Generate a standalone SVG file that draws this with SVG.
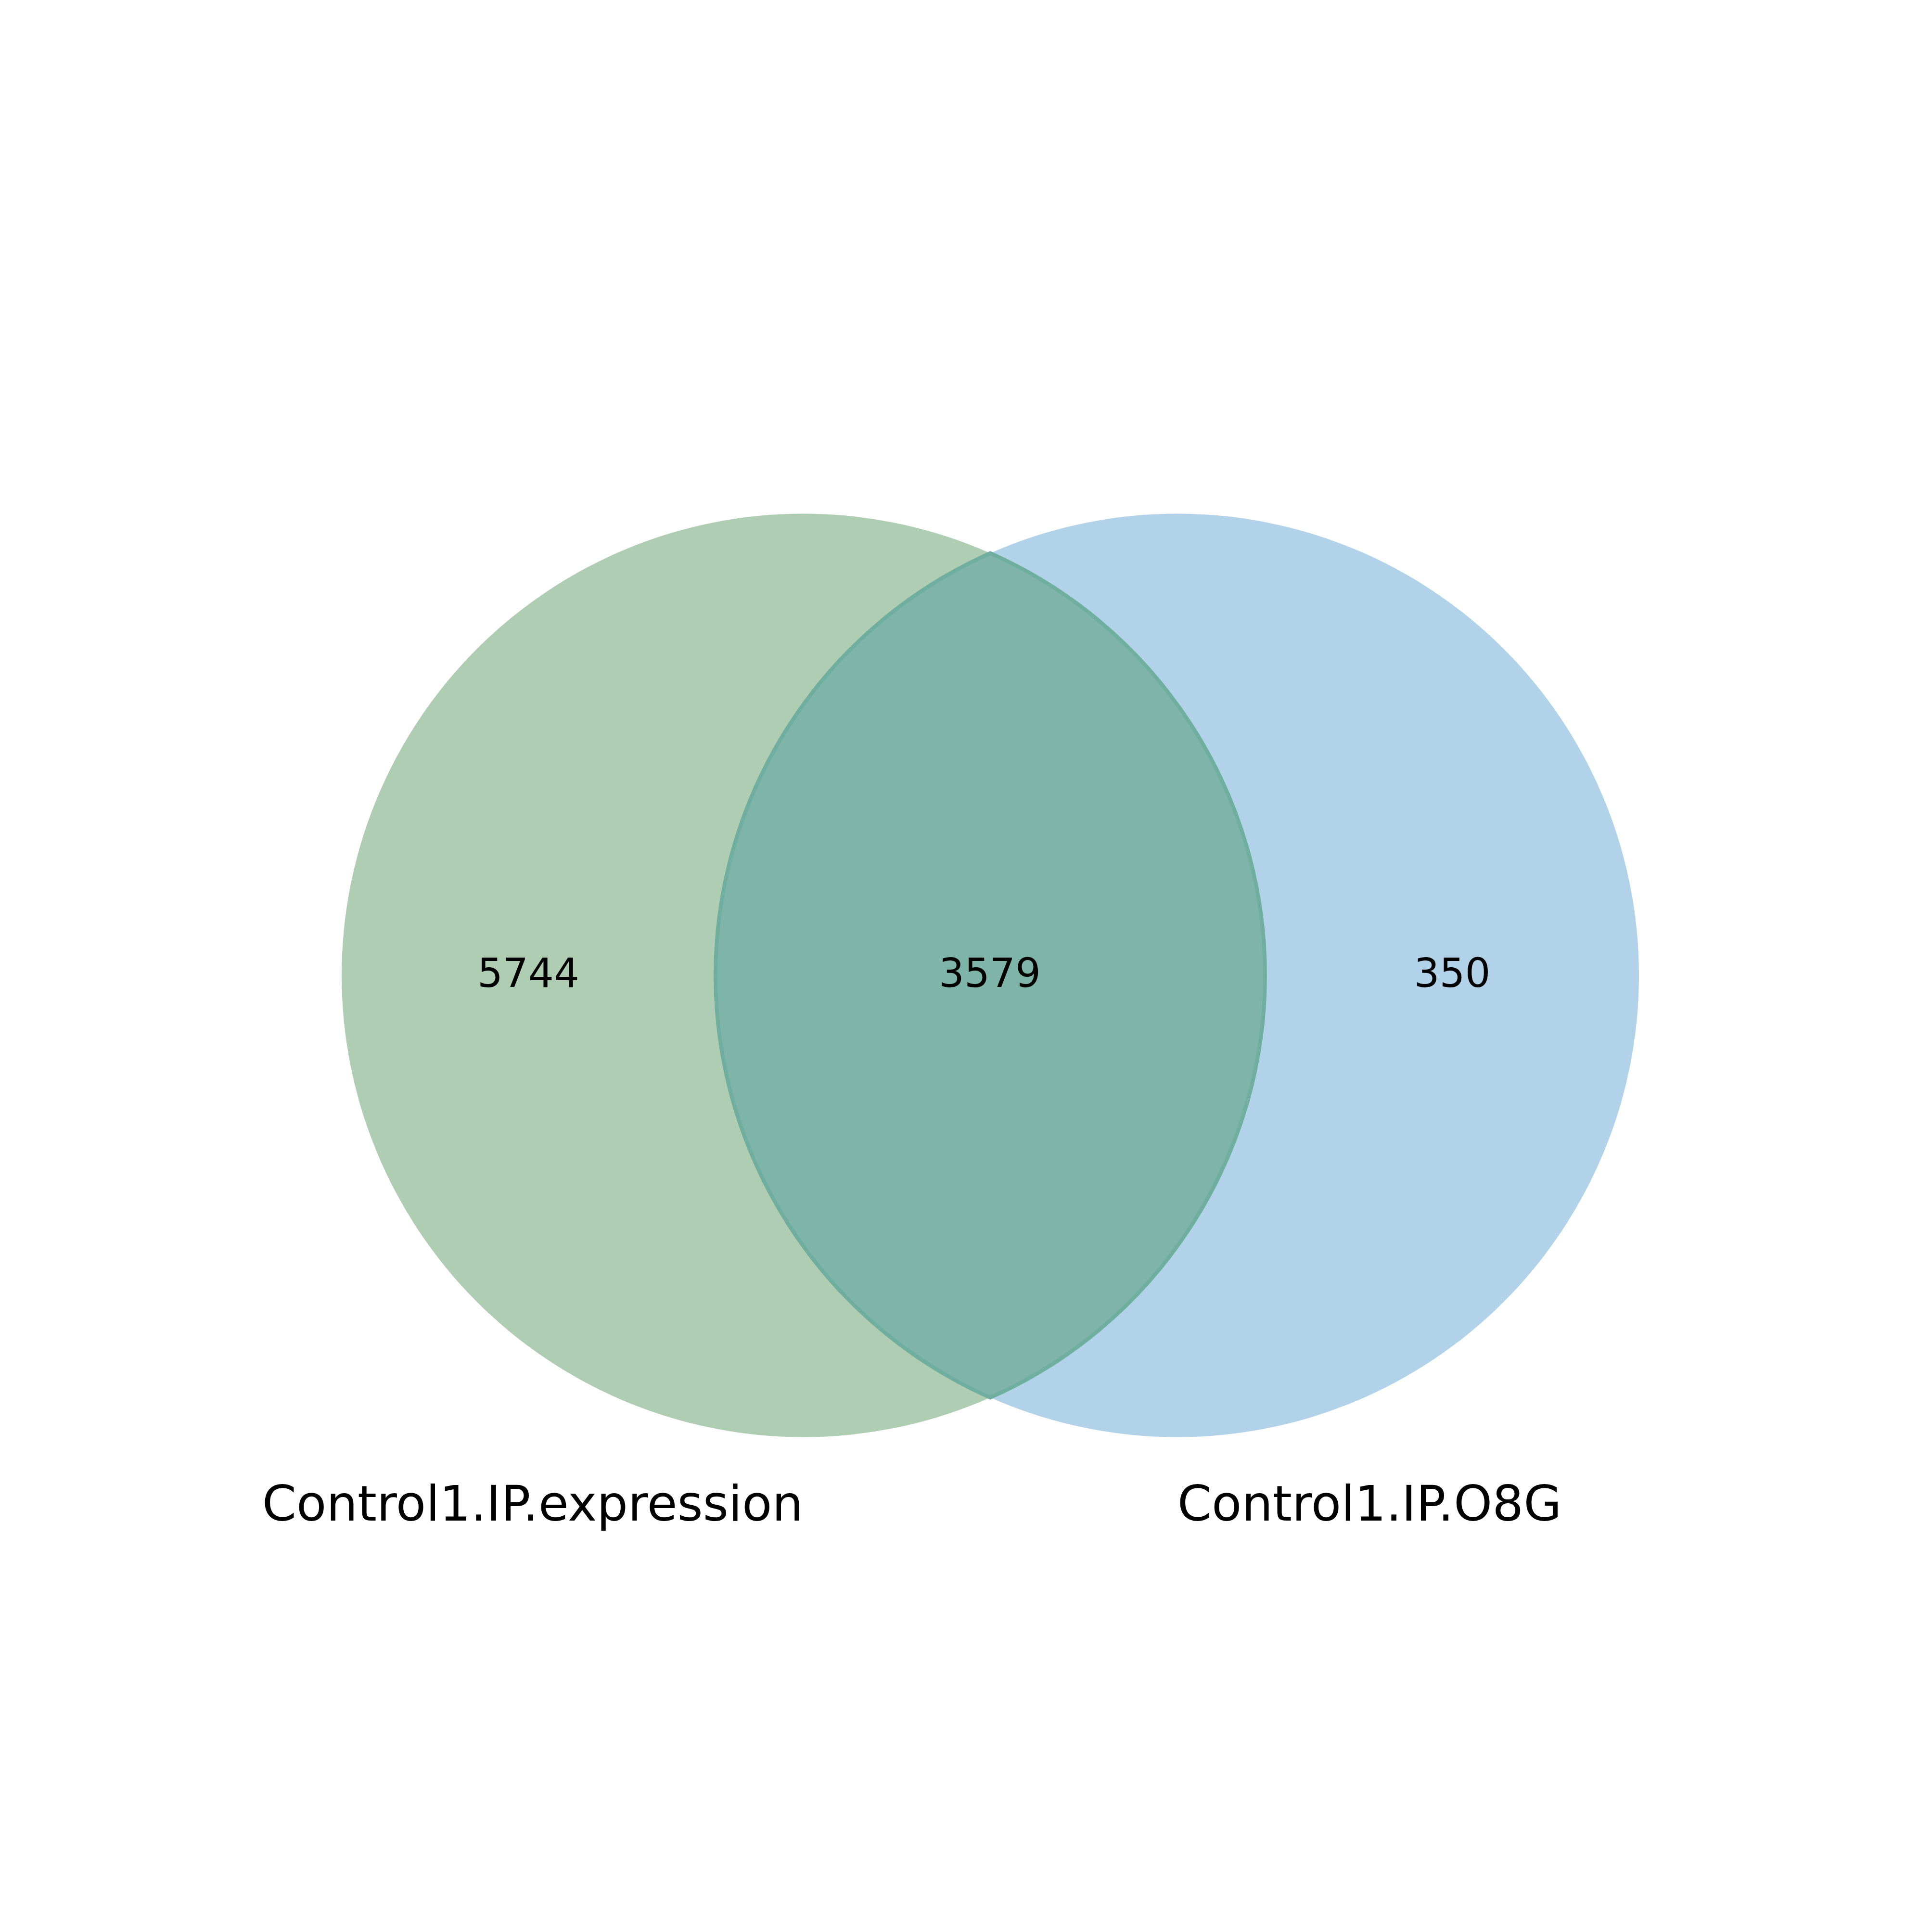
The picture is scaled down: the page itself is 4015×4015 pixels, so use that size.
<svg xmlns="http://www.w3.org/2000/svg" width="4015" height="4015" viewBox="0 0 4015 4015">
<style>
.num{font-family:"DejaVu Sans",sans-serif;font-size:83.3px;fill:#000;text-anchor:middle}
.lab{font-family:"DejaVu Sans",sans-serif;font-size:102px;fill:#000;text-anchor:middle}
</style>
<rect width="4015" height="4015" fill="#ffffff"/>
<g id="set-left">
<circle cx="1669.5" cy="2027" r="959.5" fill="#afcdb3"/>
</g>
<g id="set-right">
<circle cx="2446.5" cy="2027" r="959.5" fill="#b2d2ea"/>
</g>
<g id="intersection">
<path d="M2058,1149.7 A959.5,959.5 0 0 1 2058,2904.3 A959.5,959.5 0 0 1 2058,1149.7 Z" fill="#7fb5a8" stroke="#70ae9f" stroke-width="8"/>
</g>
<g id="labels">
<text class="num" x="1098" y="2051">5744</text>
<text class="num" x="2057" y="2051">3579</text>
<text class="num" x="3018" y="2051">350</text>
<text class="lab" x="1107" y="3160">Control1.IP.expression</text>
<text class="lab" x="2846" y="3160">Control1.IP.O8G</text>
</g>
<g id="connectors"></g>
</svg>
